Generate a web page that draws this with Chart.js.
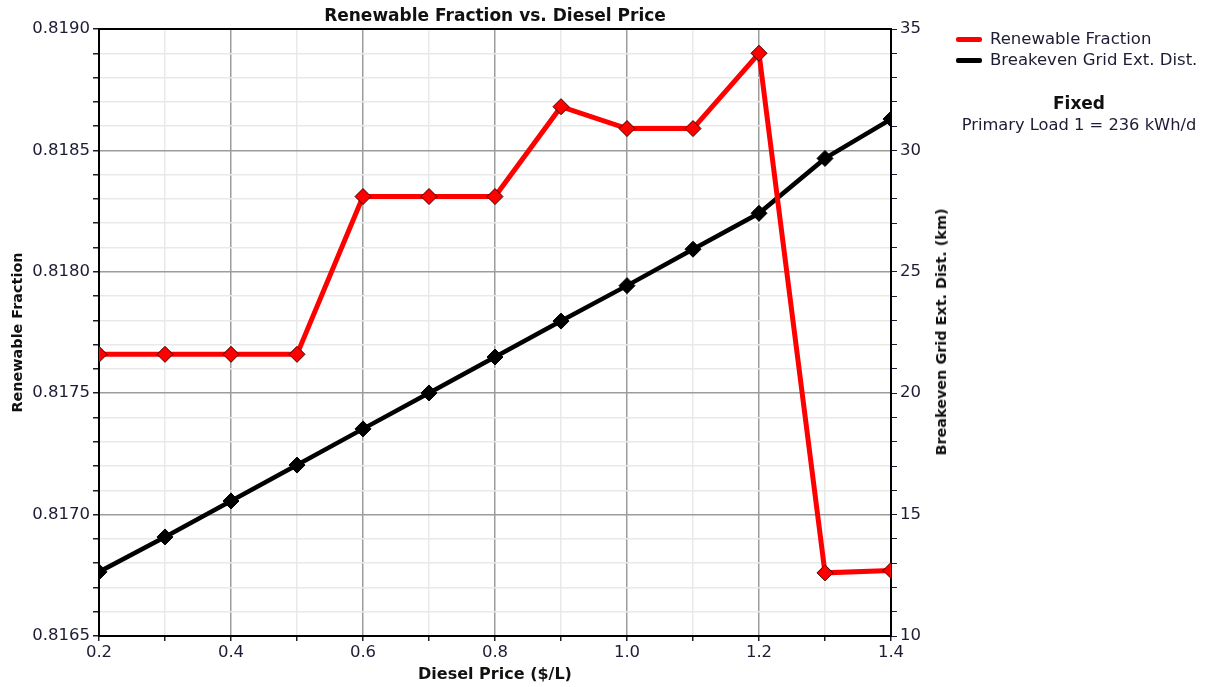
<!DOCTYPE html>
<html lang="en">
    <head>
        <meta charset="UTF-8" />
        <title>Renewable Fraction vs. Diesel Price</title>
        <script src="https://cdn.jsdelivr.net/npm/chart.js@4"></script>
        <style>
            body {
                margin: 0;
                background: #fff;
                font-family: "DejaVu Sans", sans-serif;
                color: #1c1c34;
            }
            .wrap {
                position: relative;
                width: 1205px;
                height: 687px;
            }
            .legend {
                position: absolute;
                left: 956px;
                top: 28px;
                font-size: 16.5px;
            }
            .legend .row {
                height: 21px;
                line-height: 21px;
                white-space: nowrap;
            }
            .legend .swatch {
                display: inline-block;
                width: 26px;
                height: 5px;
                vertical-align: middle;
                margin-right: 8px;
                border-radius: 2px;
            }
            .fixed {
                position: absolute;
                left: 956px;
                top: 92px;
                width: 246px;
                text-align: center;
                font-size: 16.3px;
                white-space: nowrap;
            }
            .fixed b {
                display: block;
                font-size: 17px;
                line-height: 23px;
                color: #111;
            }
            .y2-title {
                position: absolute;
                left: 941px;
                top: 332px;
                transform: translate(-50%, -50%) rotate(-90deg);
                font-weight: bold;
                font-size: 14.4px;
                white-space: nowrap;
                color: #111;
            }
        </style>
    </head>
    <body>
        <div class="wrap">
            <canvas id="chart" width="1205" height="687"></canvas>

            <!-- Legend and fixed-parameter note -->
            <div class="legend">
                <div class="row"><span class="swatch" style="background:#ff0000"></span>Renewable Fraction</div>
                <div class="row"><span class="swatch" style="background:#000"></span>Breakeven Grid Ext. Dist.</div>
            </div>
            <div class="fixed">
                <b>Fixed</b>
                Primary Load 1 = 236 kWh/d
            </div>
            <div class="y2-title">Breakeven Grid Ext. Dist. (km)</div>
        </div>

        <script>
            // Sensitivity results
            const dieselPrice = [0.2, 0.3, 0.4, 0.5, 0.6, 0.7, 0.8, 0.9, 1.0, 1.1, 1.2, 1.3, 1.4];
            const renewableFraction = [
                0.81766, 0.81766, 0.81766, 0.81766, 0.81831, 0.81831, 0.81831,
                0.81868, 0.81859, 0.81859, 0.8189, 0.81676, 0.81677,
            ];
            const breakevenDist = [
                12.64, 14.08, 15.56, 17.04, 18.53, 20.01, 21.49, 22.97, 24.43,
                25.93, 27.41, 29.67, 31.29,
            ];

            const FONT = "'DejaVu Sans', sans-serif";
            const MAJOR = "#9c9c9c";
            const MINOR = "#e9e9e9";
            const TICK_COLOR = "#1c1c34";

            const toPoints = (ys) => dieselPrice.map((x, i) => ({ x: x, y: ys[i] }));

            // black frame around the plot area
            const frame = {
                id: "frame",
                beforeDatasetsDraw(chart) {
                    const { ctx, chartArea: a } = chart;
                    ctx.save();
                    ctx.strokeStyle = "#000";
                    ctx.lineWidth = 2;
                    ctx.strokeRect(a.left, a.top, a.right - a.left, a.bottom - a.top);
                    ctx.restore();
                },
            };

            const isMajorX = (v) => Math.round(v * 10) % 2 === 0;
            const isMajorY = (v) => Math.round(v * 10000) % 5 === 0;

            new Chart(document.getElementById("chart"), {
                type: "line",
                data: {
                    datasets: [
                        {
                            label: "Renewable Fraction",
                            data: toPoints(renewableFraction),
                            yAxisID: "y",
                            borderColor: "#ff0000",
                            borderWidth: 5,
                            pointStyle: "rectRot",
                            pointRadius: 8,
                            pointBackgroundColor: "#ff0000",
                            pointBorderColor: "#3a0000",
                            pointBorderWidth: 1,
                            tension: 0,
                        },
                        {
                            label: "Breakeven Grid Ext. Dist.",
                            data: toPoints(breakevenDist),
                            yAxisID: "y2",
                            borderColor: "#000",
                            borderWidth: 4.5,
                            pointStyle: "rectRot",
                            pointRadius: 8,
                            pointBackgroundColor: "#000",
                            pointBorderColor: "#000",
                            pointBorderWidth: 1,
                            tension: 0,
                        },
                    ],
                },
                options: {
                    responsive: false,
                    animation: false,
                    layout: { padding: { left: 0, right: 250, top: 0, bottom: 0 } },
                    plugins: {
                        legend: { display: false },
                        tooltip: { enabled: false },
                        title: {
                            display: true,
                            text: "Renewable Fraction vs. Diesel Price",
                            fullSize: false,
                            color: "#111",
                            font: { family: FONT, size: 17, weight: "bold" },
                            padding: { top: 6, bottom: 2.6 },
                        },
                    },
                    scales: {
                        x: {
                            type: "linear",
                            min: 0.2,
                            max: 1.4,
                            afterFit: (s) => { s.height = 51; },
                            border: { display: false },
                            grid: {
                                color: (c) => (isMajorX(c.tick.value) ? MAJOR : MINOR),
                                lineWidth: 1.5,
                                tickColor: TICK_COLOR,
                                tickLength: 5,
                            },
                            ticks: {
                                stepSize: 0.1,
                                autoSkip: false,
                                maxRotation: 0,
                                padding: 2,
                                color: TICK_COLOR,
                                font: { family: FONT, size: 16.5 },
                                callback: (v) => (isMajorX(v) ? v.toFixed(1) : ""),
                            },
                            title: {
                                display: true,
                                text: "Diesel Price ($/L)",
                                color: "#111",
                                font: { family: FONT, size: 16, weight: "bold" },
                                padding: { top: 0, bottom: 2.4 },
                            },
                        },
                        y: {
                            position: "left",
                            min: 0.8165,
                            max: 0.819,
                            afterFit: (s) => { s.width = 99; },
                            border: { display: false },
                            grid: {
                                color: (c) => (isMajorY(c.tick.value) ? MAJOR : MINOR),
                                lineWidth: 1.5,
                                tickColor: TICK_COLOR,
                                tickLength: 6,
                            },
                            ticks: {
                                stepSize: 0.0001,
                                autoSkip: false,
                                padding: 3,
                                color: TICK_COLOR,
                                font: { family: FONT, size: 16.5 },
                                callback: (v) => (isMajorY(v) ? v.toFixed(4) : ""),
                            },
                            title: {
                                display: true,
                                text: "Renewable Fraction",
                                color: "#111",
                                font: { family: FONT, size: 14.4, weight: "bold" },
                                padding: { top: 9.3, bottom: 0 },
                            },
                        },
                        y2: {
                            position: "right",
                            min: 10,
                            max: 35,
                            afterFit: (s) => { s.width = 64; },
                            border: { display: false },
                            grid: {
                                drawOnChartArea: false,
                                tickColor: TICK_COLOR,
                                tickLength: 6,
                            },
                            ticks: {
                                stepSize: 1,
                                autoSkip: false,
                                padding: 3,
                                color: TICK_COLOR,
                                font: { family: FONT, size: 16.5 },
                                callback: (v) => (v % 5 === 0 ? String(v) : ""),
                            },
                        },
                    },
                },
                plugins: [frame],
            });
        </script>
    </body>
</html>
